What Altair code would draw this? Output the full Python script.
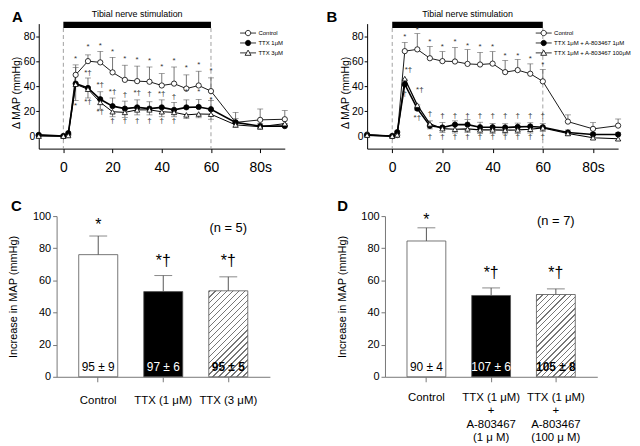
import altair as alt
import pandas as pd

FONT = "Liberation Sans"
GREY = "#555555"

# ---------------- time-course data (panels A and B) ----------------
times = [-10, 0, 2, 5, 10, 15, 20, 25, 30, 35, 40, 45, 50, 55, 60, 70, 80, 90]
stim_window = [0, 60]
stim_label = "Tibial nerve stimulation"

a_names = ["Control", "TTX 1μM", "TTX 3μM"]
a_ctrl = [0.5, 0, 1, 49, 60, 59, 51, 45, 44, 43.5, 40.5, 42, 38, 40.5, 36, 11, 13, 13.5]
a_ctrl_err = [0, 0, 0, 8, 5, 8.8, 12, 11.7, 12, 11.8, 9.5, 13.3, 11, 11.4, 10.6, 8, 8.7, 7]
a_ttx1 = [1, 0, 2.4, 42, 38.5, 29.5, 24, 22, 23, 22, 23, 21, 23, 23.3, 21.5, 11, 8, 8]
a_ttx1_err = [0, 0, 0, 13, 8, 6, 6.5, 6, 6, 5.5, 6, 6, 6, 6, 7, 3, 2, 2]
a_ttx3 = [0, 0, 0.5, 41.5, 37.5, 27, 19.5, 19, 21, 21, 19.5, 19, 17, 17.7, 17.5, 9, 7.5, 10]
a_ttx3_err = [0, 0, 0, 13, 7, 5.5, 4, 4, 4, 4, 4, 3.5, 3, 3, 4, 2, 2, 2]

a_mark_t = [5, 10, 15, 20, 25, 30, 35, 40, 45, 50, 55, 60,
            10, 15, 20, 25, 30, 35, 40, 45, 50, 55, 60,
            5, 10, 15, 20, 25, 30, 35, 40, 45]
a_mark_y = [62, 71, 72, 67.5, 61.4, 60.6, 59.8, 55.3, 59.8, 54.5, 57.2, 51.9,
            50.6, 40.8, 35.5, 33, 34.2, 34, 34, 31, 35, 35, 29,
            24.4, 27, 19, 11.7, 11.7, 11.7, 11.7, 11.7, 11.7]
a_mark_txt = (["*"] * 12
              + ["*†", "*†", "*†", "†", "*†", "†", "*†", "†", "*", "*", "*"]
              + ["*", "*†", "*†", "†", "†", "†", "†", "†", "†"])

b_names = ["Control", "TTX 1μM + A-803467 1μM", "TTX 1μM + A-803467 100μM"]
b_ctrl = [1.3, 0, 0.8, 68, 69.4, 62.3, 60, 59.7, 57.8, 57.3, 58, 51.2, 52.8, 49.9, 43.8, 11.6, 5.8, 8.4]
b_ctrl_err = [0, 0, 0, 7, 12.6, 9.5, 7.6, 11.3, 11.4, 9.7, 9.6, 9.3, 8.5, 7.9, 9.5, 5.4, 5, 5.3]
b_a1 = [0.8, 0, 3.2, 41.5, 22, 8.2, 6.9, 9.2, 9.2, 7.1, 7.1, 6.9, 7.4, 7.7, 7.1, 2.9, 1.3, 1.3]
b_a1_err = [0, 0, 0, 4, 3, 4, 4, 3, 4, 4, 3, 3, 3, 3, 3, 2, 1.5, 1.5]
b_a100 = [0.8, 0, 1, 46, 24.8, 9.8, 6, 5.5, 5.8, 5, 5, 4.8, 5, 5.5, 6.6, 2.1, -1.3, -2.1]
b_a100_err = [0, 0, 0, 6, 4, 4, 3, 3, 3, 3, 3, 3, 3, 3, 3, 1.5, 1.5, 1.5]

b_mark_t = [5, 10, 15, 20, 25, 30, 35, 40, 45, 50, 55, 60,
            6.5, 11, 15, 20, 25, 30, 35, 40, 45, 50, 55, 60,
            5, 10, 15, 20, 25, 30, 35, 40, 45, 50, 55, 60]
b_mark_y = [79.5, 85, 75, 71.5, 75, 72.3, 71, 71.5, 64.4, 64.4, 61.3, 56.5,
            52.5, 36.7, 18, 16, 16, 16, 16, 16, 16, 16, 16, 16,
            34, 14.8, -0.5, -0.5, -0.5, -0.5, -0.5, -0.5, -0.5, -0.5, -0.5, -0.5]
b_mark_txt = (["*"] * 12
              + ["*†", "*†"] + ["†"] * 10
              + ["†", "*†"] + ["†"] * 10)

# ---------------- bar data (panels C and D) ----------------
c_cats = ["Control", "TTX (1 μM)", "TTX (3 μM)"]
c_means = [76, 53, 53.5]
c_errs = [11.6, 10, 8.7]
c_inside = ["95 ± 9", "97 ± 6", "95 ± 5"]
c_sig = ["*", "*†", "*†"]
c_sig_y = [94.6, 71.8, 71.8]
c_n = "(n = 5)"

d_cats = ["Control", "TTX (1 μM)|+|A-803467|(1 μ M)", "TTX (1 μM)|+|A-803467|(100 μ M)"]
d_means = [84.5, 50.6, 51.2]
d_errs = [8.2, 4.7, 3.5]
d_inside = ["90 ± 4", "107 ± 6", "105 ± 8"]
d_sig = ["*", "*†", "*†"]
d_sig_y = [97.5, 64.6, 64.6]
d_n = "(n = 7)"

# legend glyphs: line segment with a marker in the middle (unit = sqrt(size)/2 px)
P_CIRCLE = "M-2.3,0H-0.77M0.77,0H2.3M-0.77,0A0.77,0.77 0 1,0 0.77,0A0.77,0.77 0 1,0 -0.77,0Z"
P_TRI = "M-2.3,0H-0.46M0.46,0H2.3M-0.86,0.7L0,-0.8L0.86,0.7Z"


def make_long(names, series, errs, dirs):
    rows = []
    for name, vals, es, d in zip(names, series, errs, dirs):
        for t, v, e in zip(times, vals, es):
            cap = v + e if d > 0 else v - e
            rows.append({"t": t, "series": name, "mean": v, "cap": cap, "err": e})
    return pd.DataFrame(rows)


def time_panel(letter, names, df, marks, width, height, legend_x, legend_y,
               letter_x, line_widths):
    xs = alt.Scale(domain=[-10, 90], nice=False, zero=False)
    ys = alt.Scale(domain=[-10, 90], nice=False, zero=False)
    xax = alt.Axis(values=[0, 20, 40, 60, 80], title=None, grid=False,
                   labelExpr="datum.value == 80 ? '80s' : datum.label",
                   tickSize=4, labelPadding=8, labelFontSize=14, labelColor="black",
                   domainColor="black", tickColor="black", labelFlush=False)
    yax = alt.Axis(values=[0, 20, 40, 60, 80], title="Δ MAP (mmHg)", grid=False,
                   titleFontSize=10.5, titleFontWeight="normal", titleX=-22, titleY=height * 0.55,
                   titleBaseline="middle", titleAngle=270, titleAlign="center",
                   titleColor="black", labelFontSize=10.5, labelColor="black",
                   tickSize=3, labelPadding=1, domainColor="black", tickColor="black")

    def X(f="t"):
        return alt.X(f, type="quantitative", scale=xs, axis=xax)

    def Y(f):
        return alt.Y(f, type="quantitative", scale=ys, axis=yax)

    stim = pd.DataFrame({"t": [stim_window[0]], "t2": [stim_window[1]], "label": [stim_label]})
    dash = alt.Chart(pd.DataFrame({"t": stim_window})).mark_rule(
        color="#888888", strokeDash=[4, 3], strokeWidth=0.8
    ).encode(x=X("t"), y=alt.value(4.5), y2=alt.value(height))
    bar = alt.Chart(stim).mark_rect(color="black").encode(
        x=X("t"), x2=alt.X2("t2"), y=alt.value(-2), y2=alt.value(4.5))
    label = alt.Chart(stim).transform_calculate(mid="(datum.t + datum.t2) / 2").mark_text(
        fontSize=9, baseline="middle", color="black"
    ).encode(x=X("mid"), y=alt.value(-10), text="label:N")

    e = df[df.err > 0]
    err_rule = alt.Chart(e).mark_rule(color=GREY, strokeWidth=0.8).encode(
        x=X(), y=Y("mean"), y2=alt.Y2("cap"))
    err_cap = alt.Chart(e).mark_tick(orient="horizontal", size=6, thickness=0.8, color=GREY).encode(
        x=X(), y=Y("cap"))

    shapes = ["circle", "circle", "triangle-up"]
    fills = ["white", "black", "white"]
    lines, points = [], []
    for name, lw, s, f in zip(names, line_widths, shapes, fills):
        sub = df[df.series == name]
        lines.append(alt.Chart(sub).mark_line(color="black", strokeWidth=lw).encode(
            x=X(), y=Y("mean")))
        points.append(alt.Chart(sub).mark_point(
            shape=s, filled=True, fill=f, stroke="black", strokeWidth=0.8, size=28, opacity=1
        ).encode(x=X(), y=Y("mean")))

    mk = alt.Chart(marks).mark_text(fontSize=8, color="#333333", baseline="middle").encode(
        x=X("t"), y=Y("y"), text="txt:N")

    let = alt.Chart(pd.DataFrame({"letter": [letter]})).mark_text(
        align="left", baseline="top", fontSize=15, fontWeight="bold", color="black"
    ).encode(x=alt.value(letter_x), y=alt.value(-14), text="letter:N")

    leg = alt.Legend(title=None, orient="none", legendX=legend_x, legendY=legend_y,
                     labelFontSize=6, symbolSize=49, symbolStrokeWidth=0.8,
                     rowPadding=0, labelOffset=6.5, padding=0, labelLimit=300,
                     labelColor="black")
    legend_layer = alt.Chart(df).transform_filter("false").mark_point(
        filled=True, strokeWidth=0.8, opacity=1
    ).encode(
        x=X(), y=Y("mean"),
        shape=alt.Shape("series:N", scale=alt.Scale(domain=names, range=[P_CIRCLE, P_CIRCLE, P_TRI]), legend=leg),
        fill=alt.Fill("series:N", scale=alt.Scale(domain=names, range=["white", "black", "white"]), legend=leg),
        stroke=alt.Stroke("series:N", scale=alt.Scale(domain=names, range=["black", "black", "black"]), legend=leg),
    )

    return alt.layer(dash, bar, label, err_rule, err_cap, *lines, *points, mk, let,
                     legend_layer).properties(width=width, height=height)


def hatch_gradient(bw, bh, spacing=4.2, frac=0.25):
    k = (bw + bh) / (bw * bw + bh * bh)
    n = max(1, round((bw + bh) / 2 ** 0.5 / spacing))
    stops = []
    for i in range(n):
        a = i / n
        b = (i + frac) / n
        c = (i + 1) / n
        stops += [alt.GradientStop(offset=a, color="#777777"),
                  alt.GradientStop(offset=b, color="#777777"),
                  alt.GradientStop(offset=b, color="white"),
                  alt.GradientStop(offset=c, color="white")]
    return alt.LinearGradient(gradient="linear", stops=stops, x1=0, y1=0, x2=bw * k, y2=bh * k)


def bar_panel(letter, cats, means, errs, inside, sig, sig_y, n_text, n_y, width, height,
              inset, letter_x, label_padding, multiline):
    """Panel whose visible axes start `inset` px right of the panel origin."""
    df = pd.DataFrame({"cat": cats, "mean": means,
                       "hi": [m + e for m, e in zip(means, errs)],
                       "inside": inside, "sig": sig, "sig_y": sig_y})
    xax_kw = dict(title=None, labelAngle=0, labelFontSize=11.5, tickSize=5,
                  labelPadding=label_padding, domainColor="#777777", tickColor="#777777",
                  labelColor="black", grid=False)
    if multiline:
        xax_kw.update(labelExpr="split(datum.value, '|')", labelLineHeight=13.5)
    full_w = width + inset
    xs = alt.Scale(domain=cats, paddingInner=0.4, paddingOuter=0.34, range=[inset, full_w])
    ys = alt.Scale(domain=[0, 100], nice=False)
    yax = alt.Axis(values=[0, 20, 40, 60, 80, 100], title="Increase in MAP (mmHg)",
                   titleFontSize=11, titleFontWeight="normal", titleX=-43, titleY=height / 2,
                   titleBaseline="middle", titleAngle=270, titleAlign="center",
                   titleColor="black", labelFontSize=11, labelColor="black",
                   tickSize=4, labelPadding=2, domainColor="#777777",
                   tickColor="#777777", grid=False, offset=-inset)

    def X():
        return alt.X("cat:N", sort=cats, scale=xs, axis=alt.Axis(**xax_kw))

    def Y(f):
        return alt.Y(f, type="quantitative", scale=ys, axis=yax)

    fills = ["white", "black"]
    plain = [alt.Chart(df.iloc[i:i + 1]).mark_bar(fill=fills[i], stroke=GREY, strokeWidth=0.8).encode(
        x=X(), y=Y("mean")) for i in range(2)]
    bw = width / (3 - 0.4 + 2 * 0.34) * 0.6
    bh = means[2] / 100 * height
    hatched = alt.Chart(df.iloc[2:]).mark_bar(
        fill=hatch_gradient(bw, bh), stroke=GREY, strokeWidth=0.8
    ).encode(x=X(), y=Y("mean"))

    err_rule = alt.Chart(df).mark_rule(color=GREY, strokeWidth=1).encode(
        x=X(), y=Y("mean"), y2=alt.Y2("hi"))
    err_cap = alt.Chart(df).mark_tick(orient="horizontal", size=18, thickness=1, color=GREY).encode(
        x=X(), y=Y("hi"))

    texts = []
    for i, (col, wt) in enumerate(zip(["black", "white", "black"], ["normal", "normal", "bold"])):
        texts.append(alt.Chart(df.iloc[i:i + 1]).mark_text(
            fontSize=12, color=col, fontWeight=wt, baseline="middle"
        ).encode(x=X(), y=alt.value(height - 9.7), text="inside:N"))

    sig_layer = alt.Chart(df).mark_text(fontSize=16, color="black", baseline="middle").encode(
        x=X(), y=Y("sig_y"), text="sig:N")
    n_layer = alt.Chart(pd.DataFrame({"cat": [cats[2]], "n": [n_text]})).mark_text(
        fontSize=13, color="black", baseline="middle"
    ).encode(x=X(), y=alt.value(n_y), text="n:N")
    let = alt.Chart(pd.DataFrame({"letter": [letter]})).mark_text(
        align="left", baseline="top", fontSize=15, fontWeight="bold", color="black"
    ).encode(x=alt.value(inset + letter_x), y=alt.value(-17), text="letter:N")

    layers = [*plain, hatched, err_rule, err_cap, *texts, sig_layer, n_layer, let]
    return alt.layer(*layers).properties(width=full_w, height=height)


a_df = make_long(a_names, [a_ctrl, a_ttx1, a_ttx3], [a_ctrl_err, a_ttx1_err, a_ttx3_err], [1, 1, -1])
b_df = make_long(b_names, [b_ctrl, b_a1, b_a100], [b_ctrl_err, b_a1_err, b_a100_err], [1, 1, -1])
a_marks = pd.DataFrame({"t": a_mark_t, "y": a_mark_y, "txt": a_mark_txt})
b_marks = pd.DataFrame({"t": b_mark_t, "y": b_mark_y, "txt": b_mark_txt})

A = time_panel("A", a_names, a_df, a_marks, 248, 126, 207, 5.5, -27, [0.9, 1.6, 1.0])
B = time_panel("B", b_names, b_df, b_marks, 253, 126, 174, 5.5, -41, [0.9, 1.6, 1.2])
C = bar_panel("C", c_cats, c_means, c_errs, c_inside, c_sig, c_sig_y, c_n, 12, 215, 162, 18,
              -46, 13, False)
D = bar_panel("D", d_cats, d_means, d_errs, d_inside, d_sig, d_sig_y, d_n, 5, 214, 162, 18,
              -48, 10, True)

IND = dict(fill="independent", shape="independent", stroke="independent")

chart = alt.concat(A, B, C, D, columns=2, spacing={"row": 25, "column": 37}).resolve_scale(
    **IND).resolve_legend(**IND).properties(padding=0).configure(font=FONT).configure_view(stroke=None)

chart.save("out.html", embed_options={"renderer": "svg", "actions": False})
